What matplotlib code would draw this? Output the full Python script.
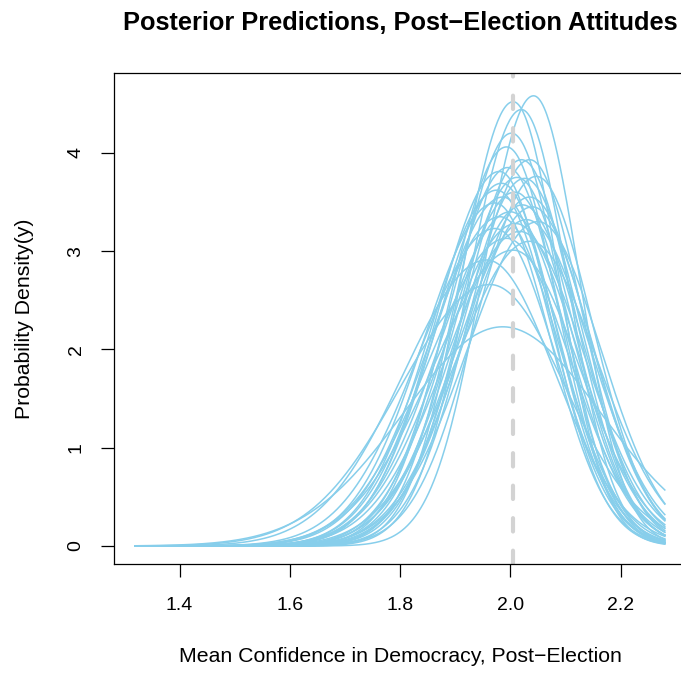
import numpy as np
import matplotlib
matplotlib.use("Agg")
import matplotlib.pyplot as plt

plt.rcParams['font.family'] = ['Liberation Sans', 'DejaVu Sans']

# posterior predictive curves:
# mode (x of peak), peak height, left spread, right spread
modes = [2.042, 2.005, 2.020, 2.002, 1.993, 2.035, 2.020, 1.980, 2.047, 1.984,
         2.026, 2.008, 1.986, 2.035, 2.022, 1.972, 1.981, 2.029, 1.972, 2.017,
         1.993, 2.035, 2.005, 1.957, 1.963, 1.986, 2.000, 2.012, 1.995, 2.050,
         1.975, 2.010, 2.040]
heights = [4.58, 4.52, 4.44, 4.20, 4.06, 3.93, 3.93, 3.81, 3.76, 3.69,
           3.74, 3.60, 3.55, 3.55, 3.47, 3.49, 3.35, 3.32, 3.23, 3.20,
           3.13, 3.10, 3.01, 2.91, 2.66, 2.23, 3.40, 3.75, 3.85, 3.30,
           3.62, 3.28, 3.45]
left_sd = [0.092, 0.094, 0.096, 0.100, 0.105, 0.108, 0.106, 0.115, 0.110, 0.118,
           0.112, 0.119, 0.124, 0.118, 0.122, 0.128, 0.130, 0.126, 0.138, 0.132,
           0.140, 0.134, 0.145, 0.150, 0.163, 0.180, 0.128, 0.112, 0.110, 0.128,
           0.120, 0.132, 0.124]
right_sd = [0.082, 0.083, 0.084, 0.090, 0.092, 0.095, 0.097, 0.094, 0.101, 0.098,
            0.101, 0.103, 0.101, 0.108, 0.108, 0.100, 0.108, 0.116, 0.109, 0.117,
            0.115, 0.123, 0.120, 0.124, 0.137, 0.178, 0.107, 0.101, 0.097, 0.114,
            0.101, 0.112, 0.107]
x_range = (1.32, 2.28)
observed_mean = 2.005

x = np.linspace(x_range[0], x_range[1], 400)

fig = plt.figure(figsize=(6.81, 6.73), dpi=100)
ax = fig.add_axes([114.3 / 681, 109 / 673, (686 - 114.3) / 681, (564 - 72.7) / 673])

for m, h, sl, sr in zip(modes, heights, left_sd, right_sd):
    s = np.where(x < m, sl, sr)
    y = h * np.exp(-0.5 * ((x - m) / s) ** 2)
    ax.plot(x, y, color="#87CEEB", lw=1.1)

ax.axvline(observed_mean, color="#D3D3D3", lw=3, dashes=(3.2, 4.6), dash_capstyle="round")

ax.set_xlim(1.2816, 2.3184)
ax.set_ylim(-0.183, 4.815)
ax.set_xticks([1.4, 1.6, 1.8, 2.0, 2.2])
ax.set_yticks([0, 1, 2, 3, 4])
ax.tick_params(direction="out", length=9.4, width=0.9, labelsize=14)
ax.tick_params(axis="x", pad=14)
ax.tick_params(axis="y", pad=12)
plt.setp(ax.get_yticklabels(), rotation=90, va="center")
for sp in ax.spines.values():
    sp.set_linewidth(0.9)
ax.spines["right"].set_visible(False)

ax.set_xlabel("Mean Confidence in Democracy, Post\u2212Election", fontsize=15.3, labelpad=24)
ax.set_ylabel("Probability Density(y)", fontsize=15.3, labelpad=24)
ax.set_title("Posterior Predictions, Post\u2212Election Attitudes", fontsize=18.3,
             fontweight="bold", pad=31)

fig.savefig("out.png", dpi=100)
